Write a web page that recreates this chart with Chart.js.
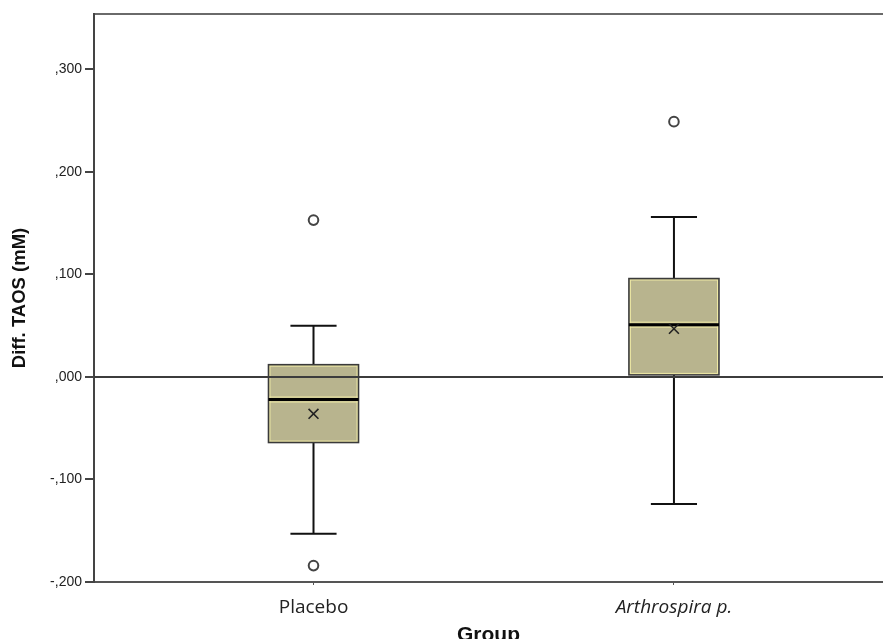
<!DOCTYPE html>
<html>
<head>
<meta charset="utf-8">
<script src="https://cdn.jsdelivr.net/npm/chart.js@4.4.1/dist/chart.umd.min.js"></script>
<style>
html, body { margin: 0; padding: 0; background: #fff; }
#wrap { width: 883px; height: 639px; }
</style>
</head>
<body>
<div id="wrap"><canvas id="chart"></canvas></div>
<script>
const groups = ['Placebo', 'Arthrospira p.'];
const groupPos = [1, 2];
const q1 = [-0.064, 0.002];
const medians = [-0.022, 0.051];
const q3 = [0.012, 0.096];
const whiskerLow = [-0.153, -0.124];
const whiskerHigh = [0.050, 0.156];
const means = [-0.036, 0.047];
const outliers = [[0.153, -0.184], [0.249]];
const yTicks = [-0.2, -0.1, 0, 0.1, 0.2, 0.3];

const outlierPoints = [];
outliers.forEach((list, i) => list.forEach(v => outlierPoints.push({ x: groupPos[i], y: v })));
const meanPoints = means.map((v, i) => ({ x: groupPos[i], y: v }));

function fmt(v) {
    return v.toFixed(3).replace('0.', ',');
}

// boxes, whiskers and the zero line, drawn under the point datasets
const boxPlugin = {
    id: 'boxes',
    beforeDatasetsDraw(chart) {
        const { ctx, scales: { x, y }, chartArea } = chart;
        ctx.save();
        groupPos.forEach((g, i) => {
            const cx = x.getPixelForValue(g);
            const half = x.getPixelForValue(g + 0.125) - cx;
            const cap = x.getPixelForValue(g + 0.064) - cx;
            const top = y.getPixelForValue(q3[i]);
            const bot = y.getPixelForValue(q1[i]);
            const med = y.getPixelForValue(medians[i]);
            const hi = y.getPixelForValue(whiskerHigh[i]);
            const lo = y.getPixelForValue(whiskerLow[i]);

            ctx.strokeStyle = '#111';
            ctx.lineWidth = 2;
            ctx.beginPath();
            ctx.moveTo(cx, top); ctx.lineTo(cx, hi);
            ctx.moveTo(cx - cap, hi); ctx.lineTo(cx + cap, hi);
            ctx.moveTo(cx, bot); ctx.lineTo(cx, lo);
            ctx.moveTo(cx - cap, lo); ctx.lineTo(cx + cap, lo);
            ctx.stroke();

            ctx.fillStyle = '#b8b48e';
            ctx.fillRect(cx - half, top, half * 2, bot - top);
            ctx.strokeStyle = '#eee9a4';
            ctx.lineWidth = 1;
            ctx.strokeRect(cx - half + 1.5, top + 1.5, half * 2 - 3, bot - top - 3);
            ctx.strokeStyle = '#3a3a3a';
            ctx.lineWidth = 1.5;
            ctx.strokeRect(cx - half, top, half * 2, bot - top);

            ctx.strokeStyle = '#eee9a4';
            ctx.lineWidth = 1;
            ctx.beginPath();
            ctx.moveTo(cx - half + 1, med - 2.5); ctx.lineTo(cx + half - 1, med - 2.5);
            ctx.moveTo(cx - half + 1, med + 2.5); ctx.lineTo(cx + half - 1, med + 2.5);
            ctx.stroke();
            ctx.strokeStyle = '#000';
            ctx.lineWidth = 3;
            ctx.beginPath();
            ctx.moveTo(cx - half, med); ctx.lineTo(cx + half, med);
            ctx.stroke();
        });
        const zy = y.getPixelForValue(0);
        ctx.strokeStyle = '#3c3c3c';
        ctx.lineWidth = 2;
        ctx.beginPath();
        ctx.moveTo(chartArea.left, zy);
        ctx.lineTo(chartArea.right, zy);
        ctx.stroke();
        ctx.restore();
    }
};

new Chart(document.getElementById('chart'), {
    type: 'scatter',
    data: {
        datasets: [
            {
                label: 'Outliers',
                data: outlierPoints,
                pointStyle: 'circle',
                pointRadius: 4.8,
                pointBorderWidth: 2,
                borderColor: '#444',
                backgroundColor: '#fff'
            },
            {
                label: 'Mean',
                data: meanPoints,
                pointStyle: 'crossRot',
                pointRadius: 7,
                pointBorderWidth: 1.6,
                borderColor: '#222',
                backgroundColor: '#222'
            }
        ]
    },
    options: {
        responsive: true,
        maintainAspectRatio: false,
        animation: false,
        layout: { padding: 0, autoPadding: false },
        plugins: {
            legend: { display: false },
            tooltip: { enabled: false }
        },
        scales: {
            x: {
                type: 'linear',
                position: 'bottom',
                min: 0.391,
                max: 2.58,
                afterBuildTicks: (s) => { s.ticks = groupPos.map(v => ({ value: v })); },
                afterFit: (s) => { s.height = 57; },
                ticks: {
                    padding: 11,
                    color: '#222',
                    maxRotation: 0,
                    callback: (v, i) => groups[i],
                    font: (c) => ({ family: 'Open Sans', size: 19, style: c.index === 1 ? 'italic' : 'normal' })
                },
                grid: { display: true, drawOnChartArea: false, drawTicks: true, tickLength: 3, color: '#555', lineWidth: 1 },
                border: { display: true, color: '#555', width: 2 },
                title: {
                    display: true,
                    text: 'Group',
                    color: '#111',
                    padding: 0,
                    font: { family: 'Liberation Sans', size: 21, weight: 'bold', lineHeight: 0.38 }
                }
            },
            x2: {
                type: 'linear',
                position: 'top',
                min: 0.391,
                max: 2.58,
                afterFit: (s) => { s.height = 14; },
                ticks: { display: false },
                grid: { display: false },
                border: { display: true, color: '#6a6a6a', width: 2 }
            },
            y: {
                type: 'linear',
                min: -0.2,
                max: 0.354,
                afterBuildTicks: (s) => { s.ticks = yTicks.map(v => ({ value: v })); },
                afterFit: (s) => { s.width = 94; },
                ticks: {
                    padding: 3,
                    color: '#222',
                    callback: (v) => fmt(v),
                    font: { family: 'Liberation Sans', size: 14 }
                },
                grid: { display: true, drawOnChartArea: false, drawTicks: true, tickLength: 9, color: '#444', lineWidth: 2 },
                border: { display: true, color: '#444', width: 2 },
                title: {
                    display: true,
                    text: 'Diff. TAOS (mM)',
                    color: '#111',
                    padding: { top: 9, bottom: 0 },
                    font: { family: 'Liberation Sans', size: 18.5, weight: 'bold' }
                }
            }
        }
    },
    plugins: [boxPlugin]
});
</script>
</body>
</html>
